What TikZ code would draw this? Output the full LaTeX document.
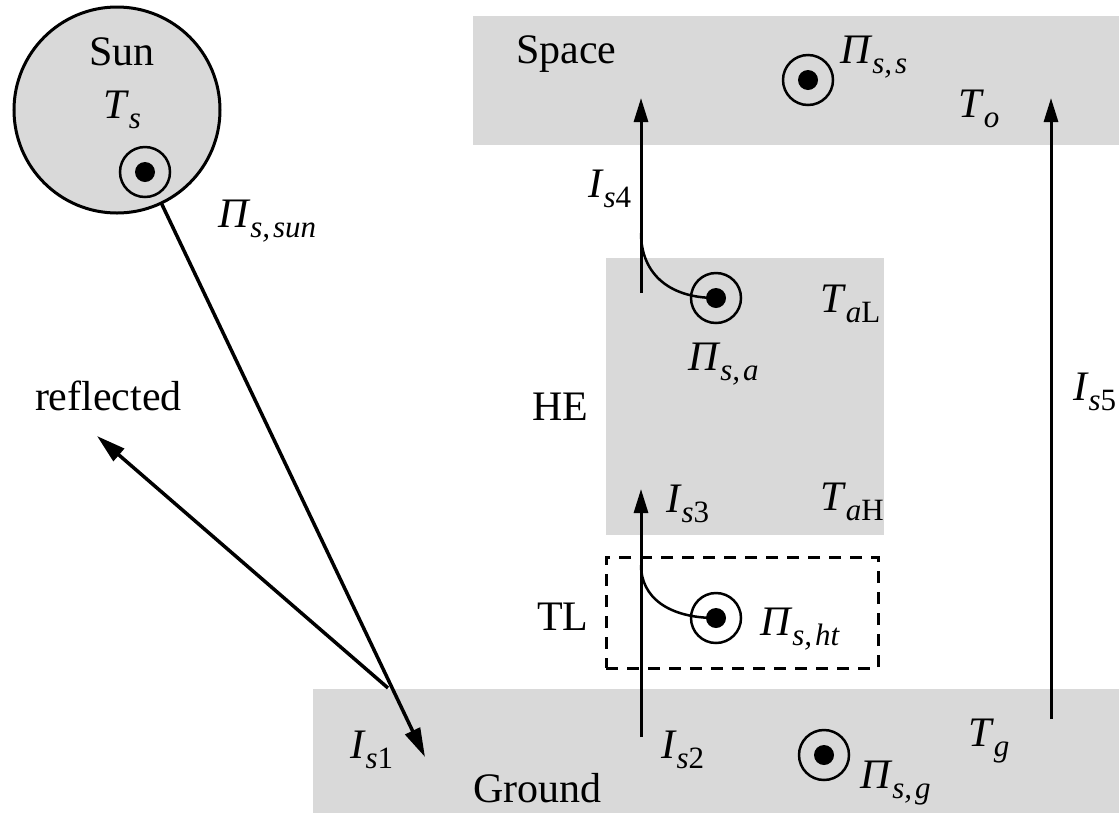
\documentclass[tikz,border=0pt]{standalone}
\usepackage{fontspec}
\setmainfont{Liberation Serif}
\usetikzlibrary{arrows.meta}
\definecolor{regiongray}{RGB}{217,217,217}
\newcommand\mainsz{\fontsize{42}{48}\selectfont}
\newcommand\subsz{\fontsize{31}{36}\selectfont}
\newcommand\symb[2]{\textit{#1}\raisebox{-10pt}{\subsz #2}}
\newcommand\cm{,\kern3pt}
\begin{document}
\begin{tikzpicture}[x=1pt,y=-1pt,
  every node/.style={inner sep=0pt,outer sep=0pt,font=\mainsz},
  region/.style={fill=regiongray,draw=none,anchor=north west},
  dashbox/.style={draw,line width=3pt,dash pattern=on 12pt off 9pt,anchor=north west},
  ring/.style={circle,draw,line width=2.5pt,minimum size=50pt},
  dotc/.style={circle,fill=black,minimum size=20pt},
  flow/.style={line width=3pt,-{Triangle[length=24pt,width=14pt]}},
  bigflow/.style={line width=3.5pt,-{Triangle[length=29pt,width=16pt]}},
  curvestroke/.style={line width=2.5pt},
  lab/.style={anchor=base west}]
\useasboundingbox (0,0) rectangle (1119,815);
% regions
\node[region,minimum width=646pt,minimum height=129pt] (space) at (473,16) {};
\node[region,minimum width=278pt,minimum height=277pt] (he) at (606,258) {};
\node[region,minimum width=806pt,minimum height=124pt] (ground) at (313,689) {};
\node[dashbox,minimum width=272pt,minimum height=111pt] (tl) at (606,557) {};
\node[circle,draw,fill=regiongray,line width=3pt,minimum size=206pt] (sun) at (117,110) {};
% source rings
\node[ring] (sunring) at (145,172) {};
\node[dotc] (sundot) at (145,172) {};
\node[ring] (spacering) at (808,80) {};
\node[dotc] (spacedot) at (808,80) {};
\node[ring] (hering) at (716,298) {};
\node[dotc] (hedot) at (716,298) {};
\node[ring] (tlring) at (716,618) {};
\node[dotc] (tldot) at (716,618) {};
\node[ring] (groundring) at (824,755) {};
\node[dotc] (grounddot) at (824,755) {};
% arrow end points
\coordinate (t1) at (425,757);
\coordinate (r0) at (388,688);
\coordinate (r1) at (97,436);
\coordinate (b2) at (641,737);
\coordinate (t3) at (641,489);
\coordinate (b4) at (641,293);
\coordinate (t4) at (641,98);
\coordinate (b5) at (1051,719);
\coordinate (t5) at (1051,98);
\coordinate (j3) at (641,565);
\coordinate (j4) at (641,233);
% arrows
\draw[bigflow] (sun) -- (t1);
\draw[bigflow] (r0) -- (r1);
\draw[flow] (b2) -- (t3);
\draw[flow] (b4) -- (t4);
\draw[flow] (b5) -- (t5);
\draw[curvestroke] (j3) .. controls +(0,32) and +(-48,0) .. (tldot.center);
\draw[curvestroke] (j4) .. controls +(0,38) and +(-50,0) .. (hedot.center);
% labels
\node[anchor=base] (lsun) at (122,65) {Sun};
\node[lab] (lts) at (103,118) {\symb{T}{\textit{s}}};
\node[lab] (lpsun) at (218,227) {\symb{Π}{\textit{s\cm sun}}};
\node[lab] (lrefl) at (35,410) {reflected};
\node[lab] (lhe) at (532,420) {HE};
\node[lab] (ltl) at (537,630) {TL};
\node[lab] (lis1) at (350,758) {\symb{I}{\textit{s}1}};
\node[lab] (lground) at (473,802) {Ground};
\node[lab] (lis2) at (661,758) {\symb{I}{\textit{s}2}};
\node[lab] (lis3) at (666,512) {\symb{I}{\textit{s}3}};
\node[lab] (ltah) at (820,510) {\symb{T}{\textit{a}H}};
\node[lab] (ltal) at (820,312) {\symb{T}{\textit{a}L}};
\node[lab] (lpa) at (688,370) {\symb{Π}{\textit{s\cm a}}};
\node[lab] (lpht) at (760,635) {\symb{Π}{\textit{s\cm ht}}};
\node[lab] (lpg) at (860,788) {\symb{Π}{\textit{s\cm g}}};
\node[lab] (ltg) at (968,746) {\symb{T}{\textit{g}}};
\node[lab] (lis4) at (588,197) {\symb{I}{\textit{s}4}};
\node[lab] (lis5) at (1073,400) {\symb{I}{\textit{s}5}};
\node[lab] (lspace) at (516,63) {Space};
\node[lab] (lps) at (840,63) {\symb{Π}{\textit{s\cm s}}};
\node[lab] (lto) at (958,117) {\symb{T}{\textit{o}}};
\end{tikzpicture}
\end{document}
